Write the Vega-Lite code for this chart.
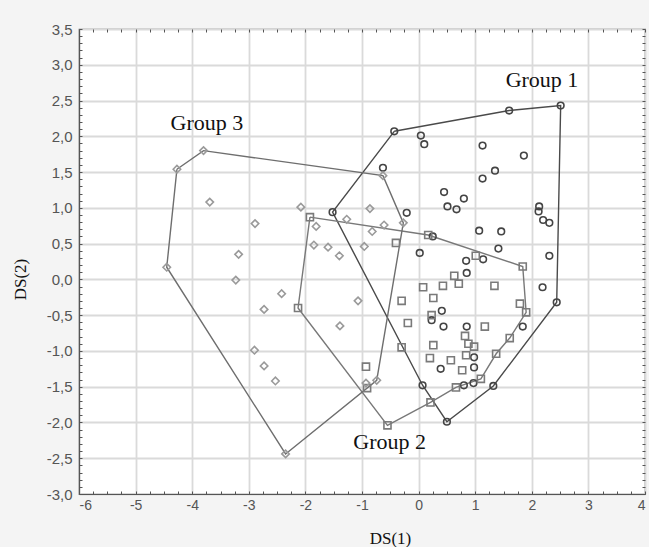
{
  "$schema": "https://vega.github.io/schema/vega-lite/v6.json",
  "width": 566,
  "height": 465,
  "autosize": {"type": "none"},
  "padding": {"left": 79, "top": 29, "right": 4, "bottom": 53},
  "background": "#f4f4f4",
  "config": {
    "view": {"fill": "white", "stroke": "#555555", "strokeWidth": 1.2},
    "legend": {"disable": true}
  },
  "datasets": {
    "points": [
      {"g": "Group 1", "x": -0.43, "y": 2.07}, {"g": "Group 1", "x": 1.60, "y": 2.36}, {"g": "Group 1", "x": 2.51, "y": 2.43},
      {"g": "Group 1", "x": 2.44, "y": -0.32}, {"g": "Group 1", "x": 1.32, "y": -1.49}, {"g": "Group 1", "x": 0.50, "y": -1.99},
      {"g": "Group 1", "x": 0.07, "y": -1.48}, {"g": "Group 1", "x": -1.52, "y": 0.94},
      {"g": "Group 1", "x": 0.04, "y": 2.01}, {"g": "Group 1", "x": 0.10, "y": 1.89}, {"g": "Group 1", "x": 1.13, "y": 1.87},
      {"g": "Group 1", "x": 1.86, "y": 1.73}, {"g": "Group 1", "x": 1.35, "y": 1.52}, {"g": "Group 1", "x": 1.13, "y": 1.41},
      {"g": "Group 1", "x": -0.63, "y": 1.56}, {"g": "Group 1", "x": 0.45, "y": 1.22}, {"g": "Group 1", "x": 0.80, "y": 1.13},
      {"g": "Group 1", "x": 0.51, "y": 1.02}, {"g": "Group 1", "x": 0.67, "y": 0.98}, {"g": "Group 1", "x": -0.21, "y": 0.93},
      {"g": "Group 1", "x": 2.13, "y": 1.02}, {"g": "Group 1", "x": 2.12, "y": 0.95}, {"g": "Group 1", "x": 2.20, "y": 0.83},
      {"g": "Group 1", "x": 2.31, "y": 0.79}, {"g": "Group 1", "x": 1.07, "y": 0.68}, {"g": "Group 1", "x": 1.46, "y": 0.67},
      {"g": "Group 1", "x": 0.25, "y": 0.60}, {"g": "Group 1", "x": 1.41, "y": 0.43}, {"g": "Group 1", "x": 0.02, "y": 0.37},
      {"g": "Group 1", "x": 2.31, "y": 0.33}, {"g": "Group 1", "x": 0.84, "y": 0.26}, {"g": "Group 1", "x": 1.14, "y": 0.28},
      {"g": "Group 1", "x": 0.85, "y": 0.09}, {"g": "Group 1", "x": 2.19, "y": -0.11}, {"g": "Group 1", "x": 0.41, "y": -0.44},
      {"g": "Group 1", "x": 0.23, "y": -0.57}, {"g": "Group 1", "x": 0.44, "y": -0.66}, {"g": "Group 1", "x": 0.85, "y": -0.66},
      {"g": "Group 1", "x": 1.84, "y": -0.66}, {"g": "Group 1", "x": 0.98, "y": -1.09}, {"g": "Group 1", "x": 0.39, "y": -1.25},
      {"g": "Group 1", "x": 0.98, "y": -1.23}, {"g": "Group 1", "x": 0.80, "y": -1.48}, {"g": "Group 1", "x": 0.97, "y": -1.45},
      {"g": "Group 2", "x": -1.92, "y": 0.87}, {"g": "Group 2", "x": 0.17, "y": 0.62}, {"g": "Group 2", "x": 1.84, "y": 0.18},
      {"g": "Group 2", "x": 1.90, "y": -0.46}, {"g": "Group 2", "x": 1.61, "y": -0.82}, {"g": "Group 2", "x": 1.37, "y": -1.04},
      {"g": "Group 2", "x": 1.10, "y": -1.39}, {"g": "Group 2", "x": 0.21, "y": -1.72}, {"g": "Group 2", "x": -0.55, "y": -2.04},
      {"g": "Group 2", "x": -2.13, "y": -0.40}, {"g": "Group 2", "x": 1.79, "y": -0.34}, {"g": "Group 2", "x": 0.66, "y": -1.51},
      {"g": "Group 2", "x": -0.91, "y": -1.52}, {"g": "Group 2", "x": -0.93, "y": -1.22}, {"g": "Group 2", "x": -0.30, "y": -0.30},
      {"g": "Group 2", "x": -0.19, "y": -0.61}, {"g": "Group 2", "x": -0.30, "y": -0.95}, {"g": "Group 2", "x": 0.08, "y": -0.11},
      {"g": "Group 2", "x": 0.26, "y": -0.26}, {"g": "Group 2", "x": 0.23, "y": -0.50}, {"g": "Group 2", "x": 0.26, "y": -0.92},
      {"g": "Group 2", "x": 0.20, "y": -1.10}, {"g": "Group 2", "x": -0.40, "y": 0.51}, {"g": "Group 2", "x": 1.01, "y": 0.33},
      {"g": "Group 2", "x": 0.63, "y": 0.05}, {"g": "Group 2", "x": 0.43, "y": -0.09}, {"g": "Group 2", "x": 0.71, "y": -0.06},
      {"g": "Group 2", "x": 1.34, "y": -0.09}, {"g": "Group 2", "x": 1.17, "y": -0.66}, {"g": "Group 2", "x": 0.82, "y": -0.79},
      {"g": "Group 2", "x": 0.88, "y": -0.90}, {"g": "Group 2", "x": 0.98, "y": -0.94}, {"g": "Group 2", "x": 0.84, "y": -1.06},
      {"g": "Group 2", "x": 0.57, "y": -1.13}, {"g": "Group 2", "x": 0.77, "y": -1.27},
      {"g": "Group 3", "x": -4.45, "y": 0.17}, {"g": "Group 3", "x": -4.27, "y": 1.54}, {"g": "Group 3", "x": -3.80, "y": 1.80},
      {"g": "Group 3", "x": -3.69, "y": 1.08}, {"g": "Group 3", "x": -2.89, "y": 0.78}, {"g": "Group 3", "x": -3.18, "y": 0.35},
      {"g": "Group 3", "x": -3.23, "y": -0.01}, {"g": "Group 3", "x": -2.42, "y": -0.20}, {"g": "Group 3", "x": -2.73, "y": -0.42},
      {"g": "Group 3", "x": -2.90, "y": -0.99}, {"g": "Group 3", "x": -2.73, "y": -1.21}, {"g": "Group 3", "x": -2.53, "y": -1.42},
      {"g": "Group 3", "x": -2.35, "y": -2.44}, {"g": "Group 3", "x": -2.08, "y": 1.01}, {"g": "Group 3", "x": -1.81, "y": 0.74},
      {"g": "Group 3", "x": -1.85, "y": 0.48}, {"g": "Group 3", "x": -1.60, "y": 0.45}, {"g": "Group 3", "x": -1.40, "y": 0.33},
      {"g": "Group 3", "x": -1.27, "y": 0.84}, {"g": "Group 3", "x": -0.86, "y": 0.99}, {"g": "Group 3", "x": -0.61, "y": 0.76},
      {"g": "Group 3", "x": -0.82, "y": 0.67}, {"g": "Group 3", "x": -0.27, "y": 0.79}, {"g": "Group 3", "x": -0.96, "y": 0.46},
      {"g": "Group 3", "x": -0.63, "y": 1.45}, {"g": "Group 3", "x": -1.07, "y": -0.30}, {"g": "Group 3", "x": -1.39, "y": -0.65},
      {"g": "Group 3", "x": -0.74, "y": -1.41}, {"g": "Group 3", "x": -0.93, "y": -1.45}
    ],
    "hulls": [
      {"g": "Group 1", "o": 1, "x": -0.43, "y": 2.07}, {"g": "Group 1", "o": 2, "x": 1.60, "y": 2.36},
      {"g": "Group 1", "o": 3, "x": 2.51, "y": 2.43}, {"g": "Group 1", "o": 4, "x": 2.44, "y": -0.32},
      {"g": "Group 1", "o": 5, "x": 1.32, "y": -1.49}, {"g": "Group 1", "o": 6, "x": 0.50, "y": -1.99},
      {"g": "Group 1", "o": 7, "x": 0.07, "y": -1.48}, {"g": "Group 1", "o": 8, "x": -1.52, "y": 0.94},
      {"g": "Group 1", "o": 9, "x": -0.43, "y": 2.07},
      {"g": "Group 2", "o": 1, "x": -1.92, "y": 0.87}, {"g": "Group 2", "o": 2, "x": 0.17, "y": 0.62},
      {"g": "Group 2", "o": 3, "x": 1.84, "y": 0.18}, {"g": "Group 2", "o": 4, "x": 1.90, "y": -0.46},
      {"g": "Group 2", "o": 5, "x": 1.61, "y": -0.82}, {"g": "Group 2", "o": 6, "x": 1.37, "y": -1.04},
      {"g": "Group 2", "o": 7, "x": 1.10, "y": -1.39}, {"g": "Group 2", "o": 8, "x": 0.66, "y": -1.51},
      {"g": "Group 2", "o": 9, "x": 0.21, "y": -1.72}, {"g": "Group 2", "o": 10, "x": -0.55, "y": -2.04},
      {"g": "Group 2", "o": 11, "x": -2.13, "y": -0.40}, {"g": "Group 2", "o": 12, "x": -1.92, "y": 0.87},
      {"g": "Group 3", "o": 1, "x": -4.27, "y": 1.54}, {"g": "Group 3", "o": 2, "x": -3.80, "y": 1.80},
      {"g": "Group 3", "o": 3, "x": -0.63, "y": 1.45}, {"g": "Group 3", "o": 4, "x": -0.27, "y": 0.79},
      {"g": "Group 3", "o": 5, "x": -0.74, "y": -1.41}, {"g": "Group 3", "o": 6, "x": -2.35, "y": -2.44},
      {"g": "Group 3", "o": 7, "x": -4.45, "y": 0.17}, {"g": "Group 3", "o": 8, "x": -4.27, "y": 1.54}
    ],
    "labels": [
      {"text": "Group 1", "x": 2.18, "y": 2.79},
      {"text": "Group 2", "x": -0.51, "y": -2.27},
      {"text": "Group 3", "x": -3.74, "y": 2.19}
    ]
  },
  "resolve": {
    "scale": {"color": "independent"},
    "axis": {"x": "independent", "y": "independent"}
  },
  "layer": [
    {
      "data": {"name": "hulls"},
      "mark": {"type": "line", "strokeWidth": 1.4},
      "encoding": {
        "x": {"field": "x", "type": "quantitative", "scale": {"domain": [-6, 4], "nice": false, "zero": false},
          "axis": {"orient": "top", "labels": false, "grid": false, "domain": false, "ticks": true, "tickSize": 3, "offset": -3, "tickColor": "#555555", "title": null,
            "values": [-6, -5.75, -5.5, -5.25, -5, -4.75, -4.5, -4.25, -4, -3.75, -3.5, -3.25, -3, -2.75, -2.5, -2.25, -2, -1.75, -1.5, -1.25, -1, -0.75, -0.5, -0.25, 0, 0.25, 0.5, 0.75, 1, 1.25, 1.5, 1.75, 2, 2.25, 2.5, 2.75, 3, 3.25, 3.5, 3.75, 4]}},
        "y": {"field": "y", "type": "quantitative", "scale": {"domain": [-3, 3.5], "nice": false, "zero": false},
          "axis": {"orient": "right", "labels": false, "grid": false, "domain": false, "ticks": true, "tickSize": 3, "offset": -3, "tickColor": "#555555", "title": null,
            "values": [-3, -2.9, -2.8, -2.7, -2.6, -2.5, -2.4, -2.3, -2.2, -2.1, -2, -1.9, -1.8, -1.7, -1.6, -1.5, -1.4, -1.3, -1.2, -1.1, -1, -0.9, -0.8, -0.7, -0.6, -0.5, -0.4, -0.3, -0.2, -0.1, 0, 0.1, 0.2, 0.3, 0.4, 0.5, 0.6, 0.7, 0.8, 0.9, 1, 1.1, 1.2, 1.3, 1.4, 1.5, 1.6, 1.7, 1.8, 1.9, 2, 2.1, 2.2, 2.3, 2.4, 2.5, 2.6, 2.7, 2.8, 2.9, 3, 3.1, 3.2, 3.3, 3.4, 3.5]}},
        "order": {"field": "o", "type": "quantitative"},
        "color": {"field": "g", "type": "nominal", "scale": {"domain": ["Group 1", "Group 2", "Group 3"], "range": ["#4a4a4a", "#787878", "#6e6e6e"]}}
      }
    },
    {
      "data": {"name": "points"},
      "mark": {"type": "point", "filled": false, "strokeWidth": 1.6, "opacity": 1},
      "encoding": {
        "x": {"field": "x", "type": "quantitative", "scale": {"domain": [-6, 4], "nice": false, "zero": false},
          "axis": {"orient": "bottom", "values": [-6, -5, -4, -3, -2, -1, 0, 1, 2, 3, 4], "grid": true, "gridColor": "#dadada", "gridWidth": 1.8,
            "domain": true, "domainColor": "#555555", "domainWidth": 1.2, "ticks": false, "tickSize": 0, "labelPadding": 4,
            "labelFont": "Liberation Sans", "labelFontSize": 14, "labelColor": "#555555",
            "labelExpr": "replace(datum.label, '\u2212', '-')",
            "title": "DS(1)", "titleFont": "Liberation Serif", "titleFontSize": 17, "titleFontWeight": "normal", "titleColor": "#111111",
            "titleX": 311, "titleY": 44, "titleBaseline": "middle"}},
        "y": {"field": "y", "type": "quantitative", "scale": {"domain": [-3, 3.5], "nice": false, "zero": false},
          "axis": {"orient": "left", "values": [-3, -2.5, -2, -1.5, -1, -0.5, 0, 0.5, 1, 1.5, 2, 2.5, 3, 3.5], "grid": true, "gridColor": "#dadada", "gridWidth": 1.8,
            "domain": true, "domainColor": "#555555", "domainWidth": 1.2, "ticks": false, "tickSize": 0, "labelPadding": 7,
            "labelFont": "Liberation Sans", "labelFontSize": 15, "labelColor": "#555555",
            "labelExpr": "replace(replace(format(datum.value, '.1f'), '.', ','), '\u2212', '-')",
            "title": "DS(2)", "titleFont": "Liberation Serif", "titleFontSize": 17, "titleFontWeight": "normal", "titleColor": "#111111",
            "titleX": -59, "titleY": 250, "titleAngle": -90, "titleBaseline": "middle", "titleAlign": "center"}},
        "shape": {"field": "g", "type": "nominal", "scale": {"domain": ["Group 1", "Group 2", "Group 3"], "range": ["circle", "square", "diamond"]}},
        "size": {"field": "g", "type": "nominal", "scale": {"domain": ["Group 1", "Group 2", "Group 3"], "range": [44, 56, 46]}},
        "color": {"field": "g", "type": "nominal", "scale": {"domain": ["Group 1", "Group 2", "Group 3"], "range": ["#444444", "#7a7a7a", "#9a9a9a"]}}
      }
    },
    {
      "data": {"name": "labels"},
      "mark": {"type": "text", "font": "Liberation Serif", "fontSize": 22, "color": "#111111", "align": "center", "baseline": "middle"},
      "encoding": {
        "x": {"field": "x", "type": "quantitative", "scale": {"domain": [-6, 4], "nice": false, "zero": false},
          "axis": {"orient": "bottom", "labels": false, "grid": false, "domain": false, "ticks": true, "tickSize": 3, "offset": -3, "tickColor": "#555555", "title": null,
            "values": [-6, -5.75, -5.5, -5.25, -5, -4.75, -4.5, -4.25, -4, -3.75, -3.5, -3.25, -3, -2.75, -2.5, -2.25, -2, -1.75, -1.5, -1.25, -1, -0.75, -0.5, -0.25, 0, 0.25, 0.5, 0.75, 1, 1.25, 1.5, 1.75, 2, 2.25, 2.5, 2.75, 3, 3.25, 3.5, 3.75, 4]}},
        "y": {"field": "y", "type": "quantitative", "scale": {"domain": [-3, 3.5], "nice": false, "zero": false},
          "axis": {"orient": "left", "labels": false, "grid": false, "domain": false, "ticks": true, "tickSize": 3, "offset": -3, "tickColor": "#555555", "title": null,
            "values": [-3, -2.9, -2.8, -2.7, -2.6, -2.5, -2.4, -2.3, -2.2, -2.1, -2, -1.9, -1.8, -1.7, -1.6, -1.5, -1.4, -1.3, -1.2, -1.1, -1, -0.9, -0.8, -0.7, -0.6, -0.5, -0.4, -0.3, -0.2, -0.1, 0, 0.1, 0.2, 0.3, 0.4, 0.5, 0.6, 0.7, 0.8, 0.9, 1, 1.1, 1.2, 1.3, 1.4, 1.5, 1.6, 1.7, 1.8, 1.9, 2, 2.1, 2.2, 2.3, 2.4, 2.5, 2.6, 2.7, 2.8, 2.9, 3, 3.1, 3.2, 3.3, 3.4, 3.5]}},
        "text": {"field": "text", "type": "nominal"}
      }
    }
  ]
}
